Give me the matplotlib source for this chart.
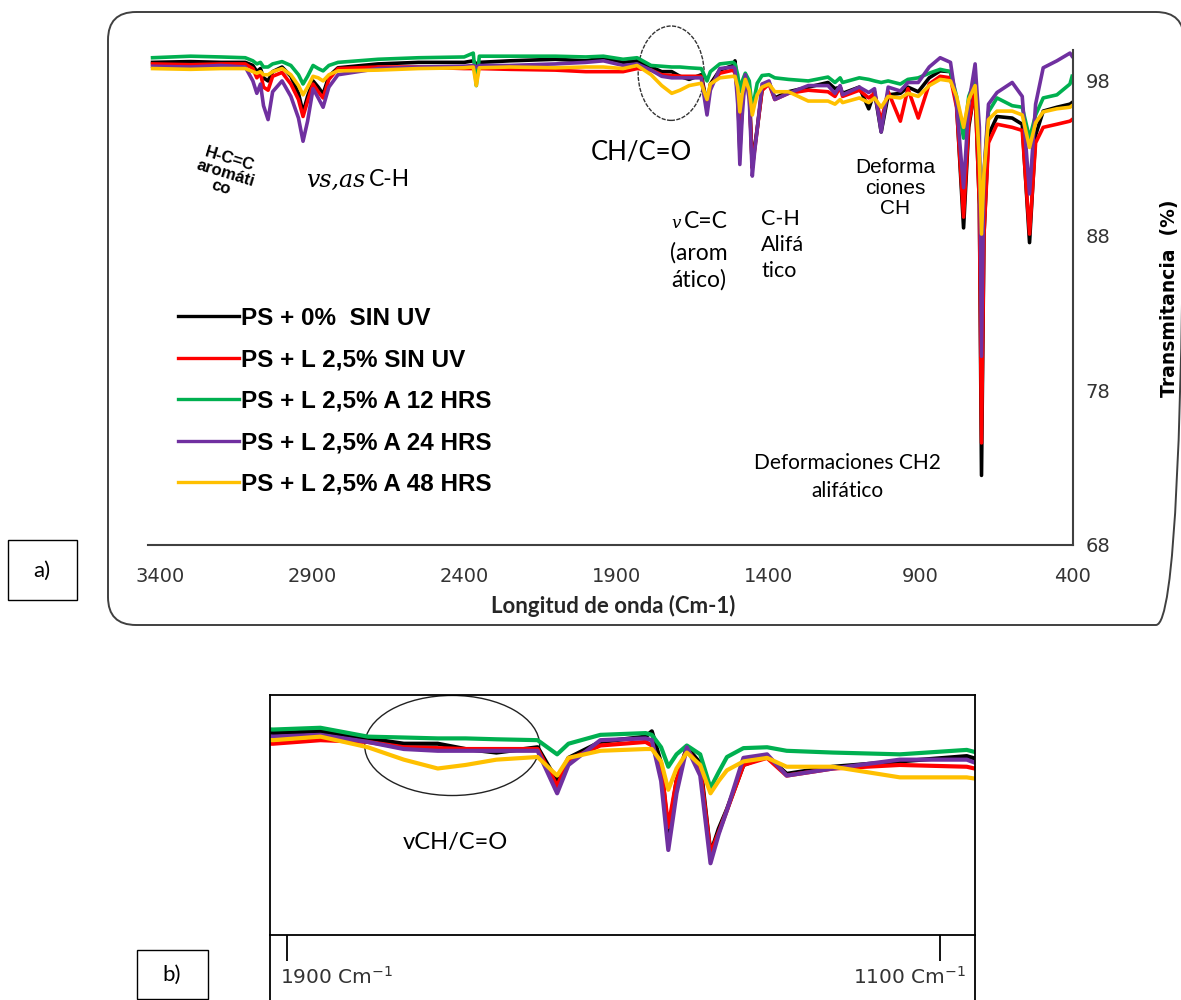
import matplotlib
matplotlib.use("Agg")
import matplotlib.pyplot as plt
from matplotlib.patches import FancyBboxPatch, Rectangle, Ellipse
from matplotlib.transforms import ScaledTranslation

# wavenumber (cm-1) and transmittance (%)
wavenumber = [3425, 3300, 3200, 3120, 3095, 3082, 3070, 3060, 3045, 3030,
              2999, 2970, 2945, 2930, 2915, 2897, 2880, 2864, 2845, 2815,
              2683, 2550, 2400, 2370, 2360, 2350, 2250, 2100, 2000, 1942,
              1877, 1831, 1785, 1750, 1717, 1690, 1660, 1620, 1601, 1590,
              1559, 1515, 1509, 1500, 1493, 1485, 1475, 1462, 1452, 1444,
              1436, 1420, 1397, 1378, 1333, 1268, 1203, 1180, 1163, 1155,
              1100, 1069, 1050, 1028, 1005, 965, 940, 906, 870, 834,
              800, 780, 757, 740, 719, 705, 698, 690, 675, 647,
              597, 564, 540, 520, 495, 450, 407, 400]

ps_0 = [99.2, 99.25, 99.2, 99.2, 99.0, 98.6, 98.8, 98.2, 98.0, 98.6,
        98.9, 98.3, 97.2, 95.95, 97.0, 98.0, 97.6, 97.15, 98.3, 98.85,
        99.1, 99.2, 99.2, 99.3, 99.1, 99.2, 99.3, 99.4, 99.3, 99.5,
        99.2, 99.3, 98.9, 98.6, 98.6, 98.3, 98.1, 98.4, 96.5, 97.8,
        98.7, 99.0, 99.3, 97.5, 93.4, 96.5, 98.4, 97.5, 92.4, 93.8,
        94.9, 97.4, 97.9, 96.9, 97.3, 97.6, 97.9, 97.5, 97.6, 97.2,
        97.6, 96.2, 97.3, 94.7, 97.1, 97.2, 97.6, 97.3, 98.2, 98.65,
        98.6, 96.5, 88.5, 95.0, 97.6, 90.0, 72.5, 88.0, 94.5, 95.7,
        95.6, 95.2, 87.55, 94.5, 96.05, 96.3, 96.5, 96.6]

ps_l_sin_uv = [99.1, 99.05, 99.1, 99.1, 98.8, 98.2, 98.5, 97.6, 97.4, 98.3,
               98.55, 97.8, 96.8, 95.7, 96.7, 97.8, 97.3, 96.9, 98.1, 98.8,
               98.9, 98.9, 98.8, 98.8, 98.7, 98.8, 98.75, 98.7, 98.6, 98.6,
               98.6, 98.8, 98.7, 98.4, 98.35, 98.3, 98.3, 98.3, 96.2, 97.7,
               98.5, 98.7, 98.5, 97.3, 93.9, 96.5, 98.3, 97.2, 92.4, 93.6,
               94.85, 97.4, 97.8, 96.8, 97.2, 97.4, 97.3, 97.0, 97.6, 97.0,
               97.4, 96.9, 97.2, 95.4, 97.3, 95.4, 97.5, 95.6, 97.8, 98.3,
               98.2, 96.3, 89.2, 95.3, 97.4, 90.0, 74.6, 88.0, 94.0, 95.2,
               95.0, 94.8, 88.1, 94.0, 95.0, 95.2, 95.4, 95.5]

ps_l_12h = [99.5, 99.6, 99.55, 99.5, 99.3, 99.1, 99.2, 98.9, 98.9, 99.1,
            99.25, 99.0, 98.4, 97.8, 98.3, 99.0, 98.8, 98.65, 99.0, 99.2,
            99.4, 99.5, 99.55, 99.8, 97.7, 99.6, 99.6, 99.6, 99.55, 99.6,
            99.4, 99.5, 99.0, 98.95, 98.9, 98.9, 98.85, 98.8, 98.0, 98.6,
            99.1, 99.2, 99.1, 98.4, 97.3, 98.0, 98.5, 98.0, 96.1, 97.0,
            97.85, 98.35, 98.4, 98.2, 98.1, 98.0, 98.25, 97.9, 98.2, 97.9,
            98.2, 98.1, 98.0, 97.9, 98.0, 97.8, 98.1, 98.2, 98.5, 98.75,
            98.6, 97.0, 94.3, 97.0, 98.1, 93.0, 88.5, 92.0, 96.0, 96.9,
            96.4, 96.3, 94.3, 95.8, 96.9, 97.1, 97.8, 98.3]

ps_l_24h = [98.95, 98.9, 99.0, 98.9, 98.0, 97.2, 97.8, 96.4, 95.5, 97.3,
            98.0, 97.0, 95.6, 94.1, 95.4, 97.5, 96.9, 96.3, 97.6, 98.4,
            98.8, 98.9, 98.95, 99.0, 98.9, 99.0, 99.0, 99.1, 99.2, 99.3,
            99.0, 99.1, 98.7, 98.3, 98.2, 98.2, 98.2, 98.2, 95.8, 97.4,
            98.8, 98.9, 98.8, 96.5, 92.6, 95.8, 98.4, 96.8, 91.85, 93.5,
            94.85, 97.8, 98.0, 96.8, 97.2, 97.7, 97.7, 97.2, 97.7, 97.1,
            97.6, 97.25, 97.5, 94.7, 97.6, 97.35, 97.9, 97.9, 98.9, 99.5,
            99.2, 96.5, 91.1, 96.5, 99.1, 95.0, 80.2, 92.0, 96.5, 97.25,
            97.9, 97.0, 90.7, 96.5, 98.85, 99.3, 99.8, 99.6]

ps_l_48h = [98.8, 98.75, 98.8, 98.8, 98.6, 98.5, 98.6, 98.4, 98.4, 98.6,
            98.8, 98.4, 97.7, 97.1, 97.6, 98.3, 98.2, 98.0, 98.4, 98.65,
            98.7, 98.8, 98.85, 98.9, 97.7, 98.85, 98.9, 98.85, 98.9, 98.9,
            98.8, 99.0, 98.4, 97.7, 97.2, 97.4, 97.7, 97.85, 96.8, 97.8,
            98.2, 98.3, 98.3, 97.6, 96.0, 97.2, 98.1, 97.4, 95.8, 96.5,
            97.1, 97.6, 97.8, 97.3, 97.3, 96.7, 96.7, 96.5, 96.8, 96.6,
            96.9, 96.6, 96.9, 96.3, 97.0, 96.9, 97.2, 97.0, 97.7, 98.1,
            98.0, 97.0, 95.0, 96.8, 97.7, 93.0, 88.1, 92.0, 95.5, 96.05,
            96.05, 95.8, 93.7, 95.3, 96.0, 96.2, 96.3, 96.4]

series = [ps_0, ps_l_sin_uv, ps_l_12h, ps_l_24h, ps_l_48h]
labels = ["PS + 0%  SIN UV", "PS + L 2,5% SIN UV", "PS + L 2,5% A 12 HRS",
          "PS + L 2,5% A 24 HRS", "PS + L 2,5% A 48 HRS"]
colors = ["#000000", "#FF0000", "#00B050", "#7030A0", "#FFC000"]

xticks_a = [3400, 2900, 2400, 1900, 1400, 900, 400]
yticks_a = [68, 78, 88, 98]
xticks_b = [1900, 1100]
xticklabels_b = ["1900 Cm$^{-1}$", "1100 Cm$^{-1}$"]

W, H = 1181, 1000
fig = plt.figure(figsize=(W / 100, H / 100), dpi=100)

# background layer in pixel coordinates for frames and annotations
bg = fig.add_axes([0, 0, 1, 1])
bg.set_xlim(0, W)
bg.set_ylim(H, 0)
bg.axis("off")
bg.set_zorder(-1)

bg.add_patch(FancyBboxPatch((108, 12), 1076, 613,
                            boxstyle="round,pad=0,rounding_size=28",
                            fill=False, ec="#404040", lw=1.4))
bg.add_patch(Rectangle((8, 540), 69, 60, fill=False, ec="black", lw=1))
bg.text(42, 571, "a)", family="Lato", fontsize=16, ha="center", va="center")
bg.add_patch(Rectangle((137, 950), 71, 49, fill=False, ec="black", lw=1))
bg.text(172, 975, "b)", family="Lato", fontsize=16, ha="center", va="center")
bg.plot([270, 270], [935, 1000], color="black", lw=1.3)
bg.plot([975, 975], [935, 1000], color="black", lw=1.3)

# ---- panel a: full spectra
ax_a = fig.add_axes([148 / W, 1 - 545 / H, (1073 - 148) / W, 495 / H], facecolor="none")
for vals, lab, col in zip(series, labels, colors):
    ax_a.plot(wavenumber, vals, color=col, lw=2.6, label=lab, solid_joinstyle="round")
ax_a.set_xlim(3440, 397)
ax_a.set_ylim(68, 100)
ax_a.set_xticks(xticks_a)
ax_a.set_yticks(yticks_a)
ax_a.yaxis.tick_right()
for s in ["top", "left"]:
    ax_a.spines[s].set_visible(False)
for s in ["bottom", "right"]:
    ax_a.spines[s].set_color("#404040")
    ax_a.spines[s].set_linewidth(1.5)
ax_a.tick_params(axis="x", length=0, pad=16, labelsize=14, labelcolor="#333333")
ax_a.tick_params(axis="y", length=0, pad=9, labelsize=14, labelcolor="#333333")
ax_a.add_patch(Ellipse((1719, 98.5), 217, 6.1, fill=False, ec="#333333",
                       lw=1, ls=(0, (3, 1)), clip_on=False))

leg = ax_a.legend(loc="upper left", bbox_to_anchor=(178 / W, 1 - 307 / H),
                  bbox_transform=fig.transFigure, frameon=False,
                  prop={"family": "Liberation Sans", "weight": "bold", "size": 17.5},
                  handlelength=2.5, handletextpad=0.1, labelspacing=0.76,
                  borderpad=0, borderaxespad=0)
for line in leg.get_lines():
    line.set_linewidth(2.4)

bg.text(613, 606, "Longitud de onda (Cm-1)", family="Lato", weight="bold",
        fontsize=16, color="#262626", ha="center", va="center")
bg.text(1170, 298, "Transmitancia  (%)", family="DejaVu Sans", weight="bold",
        fontsize=13.5, rotation=90, ha="center", va="center")

# band annotations
bg.text(225, 173, "H-C=C\naromáti\nco", family="Liberation Sans", weight="bold",
        fontsize=12, rotation=-17, ha="center", va="center", multialignment="center",
        linespacing=1.0)
bg.text(365, 180, "vs,as", family="DejaVu Serif", style="italic", fontsize=17,
        ha="right", va="center")
bg.text(369, 180, "C-H", family="Lato", fontsize=16.5, ha="left", va="center")
bg.text(641, 152, "CH/C=O", family="Lato", fontsize=18.5, ha="center", va="center")
bg.text(676, 224, "v", family="DejaVu Serif", style="italic", fontsize=12,
        ha="center", va="center")
bg.text(706, 222, "C=C", family="Lato", fontsize=16.5, ha="center", va="center")
bg.text(699, 253, "(arom", family="Lato", fontsize=16.5, ha="center", va="center")
bg.text(699, 280, "ático)", family="Lato", fontsize=16.5, ha="center", va="center")
bg.text(761, 245, "C-H\nAlifá\ntico", family="Lato", fontsize=15.5, ha="left",
        va="center", linespacing=1.4)
bg.text(895, 188, "Deforma\nciones\nCH", family="Liberation Sans", fontsize=15,
        ha="center", va="center", multialignment="center", linespacing=1.1)
bg.text(847, 477, "Deformaciones CH2\nalifático", family="Lato", fontsize=15,
        ha="center", va="center", multialignment="center", linespacing=1.5)

# ---- panel b: zoom of the 1900-1100 region
pos_b = [270 / W, 1 - 935 / H, 705 / W, 240 / H]
ax_b = fig.add_axes(pos_b, facecolor="none")
for vals, col in zip(series, colors):
    ax_b.plot(wavenumber, vals, color=col, lw=3, solid_joinstyle="round")
ax_b.set_xlim(1880, 1195)
ax_b.set_ylim(87.8, 101.35)
ax_b.set_xticks([])
ax_b.set_yticks([])
for s in ax_b.spines.values():
    s.set_color("black")
    s.set_linewidth(1.3)
ax_b.add_patch(Ellipse((1703, 98.5), 170, 5.65, fill=False, ec="#222222", lw=1))
bg.text(455, 843, "vCH/C=O", family="Lato", fontsize=17, ha="center", va="center")

ax_t = fig.add_axes(pos_b, facecolor="none")
ax_t.set_xlim(1921, 1057)
ax_t.set_ylim(0, 1)
ax_t.set_xticks(xticks_b)
ax_t.set_xticklabels(xticklabels_b)
ax_t.set_yticks([])
for s in ax_t.spines.values():
    s.set_visible(False)
ax_t.tick_params(axis="x", direction="out", length=19, width=1.3, color="black",
                 pad=3, labelsize=14.5, labelcolor="#333333")
tl = ax_t.get_xticklabels()
tl[0].set_ha("left")
tl[0].set_transform(tl[0].get_transform() + ScaledTranslation(-7 / 100, 0, fig.dpi_scale_trans))
tl[1].set_ha("right")
tl[1].set_transform(tl[1].get_transform() + ScaledTranslation(26 / 100, 0, fig.dpi_scale_trans))

fig.savefig("out.png", dpi=100)
